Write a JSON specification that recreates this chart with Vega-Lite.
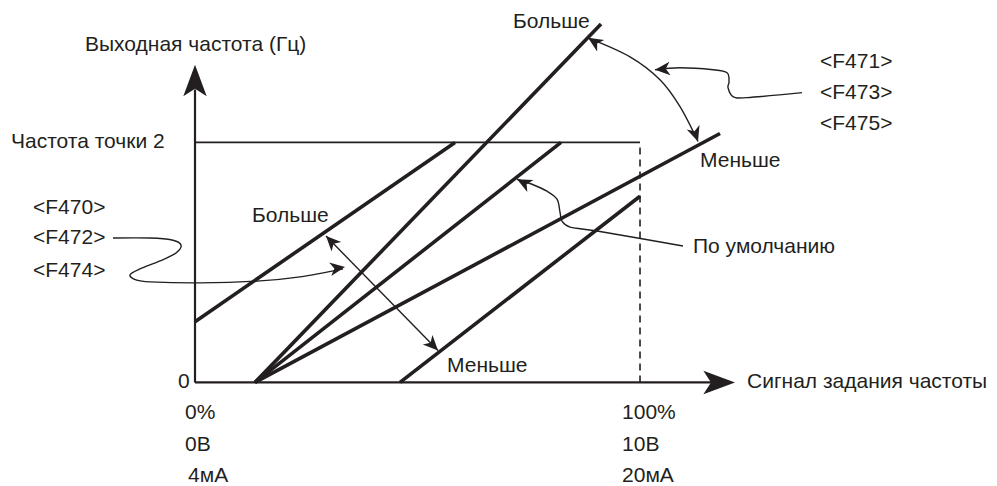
{
  "$schema": "https://vega.github.io/schema/vega-lite/v6.json",
  "width": 997,
  "height": 486,
  "autosize": {"type": "fit", "contains": "padding"},
  "padding": 0,
  "background": "white",
  "config": {"view": {"stroke": null}},
  "datasets": {
    "segments": [
      {"kind": "thick", "id": "bias", "o": 0, "x": 0, "y": 25.31},
      {"kind": "thick", "id": "bias", "o": 1, "x": 58.43, "y": 100},
      {"kind": "thick", "id": "steep", "o": 0, "x": 13.48, "y": 0},
      {"kind": "thick", "id": "steep", "o": 1, "x": 91.24, "y": 149.38},
      {"kind": "thick", "id": "default", "o": 0, "x": 13.48, "y": 0},
      {"kind": "thick", "id": "default", "o": 1, "x": 82.25, "y": 100},
      {"kind": "thick", "id": "shallow", "o": 0, "x": 13.48, "y": 0},
      {"kind": "thick", "id": "shallow", "o": 1, "x": 117.98, "y": 103.73},
      {"kind": "thick", "id": "shift", "o": 0, "x": 46.07, "y": 0},
      {"kind": "thick", "id": "shift", "o": 1, "x": 100, "y": 77.59},
      {"kind": "axis", "id": "yaxis", "o": 0, "x": 0, "y": 0},
      {"kind": "axis", "id": "yaxis", "o": 1, "x": 0, "y": 122},
      {"kind": "axis", "id": "xaxis", "o": 0, "x": 0, "y": 0},
      {"kind": "axis", "id": "xaxis", "o": 1, "x": 117, "y": 0},
      {"kind": "thin", "id": "p2", "o": 0, "x": 0, "y": 100},
      {"kind": "thin", "id": "p2", "o": 1, "x": 100, "y": 100},
      {"kind": "dash", "id": "full", "o": 0, "x": 100, "y": 0},
      {"kind": "dash", "id": "full", "o": 1, "x": 100, "y": 100},
      {"kind": "curve", "id": "c474", "o": 0, "x": -18.43, "y": 60.17},
      {"kind": "curve", "id": "c474", "o": 1, "x": -10.11, "y": 60.17},
      {"kind": "curve", "id": "c474", "o": 2, "x": -5.17, "y": 59.34},
      {"kind": "curve", "id": "c474", "o": 3, "x": -3.15, "y": 57.26},
      {"kind": "curve", "id": "c474", "o": 4, "x": -4.27, "y": 53.94},
      {"kind": "curve", "id": "c474", "o": 5, "x": -7.87, "y": 50.62},
      {"kind": "curve", "id": "c474", "o": 6, "x": -12.36, "y": 47.3},
      {"kind": "curve", "id": "c474", "o": 7, "x": -14.61, "y": 44.81},
      {"kind": "curve", "id": "c474", "o": 8, "x": -13.26, "y": 42.74},
      {"kind": "curve", "id": "c474", "o": 9, "x": -10.11, "y": 41.91},
      {"kind": "curve", "id": "c474", "o": 10, "x": 1.12, "y": 41.49},
      {"kind": "curve", "id": "c474", "o": 11, "x": 14.61, "y": 42.32},
      {"kind": "curve", "id": "c474", "o": 12, "x": 23.6, "y": 43.98},
      {"kind": "curve", "id": "c474", "o": 13, "x": 33.26, "y": 47.3},
      {"kind": "curve", "id": "c471", "o": 0, "x": 103.37, "y": 130.29},
      {"kind": "curve", "id": "c471", "o": 1, "x": 108.99, "y": 131.12},
      {"kind": "curve", "id": "c471", "o": 2, "x": 116.4, "y": 130.29},
      {"kind": "curve", "id": "c471", "o": 3, "x": 119.55, "y": 129.05},
      {"kind": "curve", "id": "c471", "o": 4, "x": 120.0, "y": 125.31},
      {"kind": "curve", "id": "c471", "o": 5, "x": 119.78, "y": 122.82},
      {"kind": "curve", "id": "c471", "o": 6, "x": 120.9, "y": 119.09},
      {"kind": "curve", "id": "c471", "o": 7, "x": 124.04, "y": 118.67},
      {"kind": "curve", "id": "c471", "o": 8, "x": 136.4, "y": 120.75},
      {"kind": "curve", "id": "arc", "o": 0, "x": 88.31, "y": 143.57},
      {"kind": "curve", "id": "arc", "o": 1, "x": 97.75, "y": 135.68},
      {"kind": "curve", "id": "arc", "o": 2, "x": 104.49, "y": 126.14},
      {"kind": "curve", "id": "arc", "o": 3, "x": 108.99, "y": 114.94},
      {"kind": "curve", "id": "arc", "o": 4, "x": 113.03, "y": 100.41},
      {"kind": "curve", "id": "cdef", "o": 0, "x": 72.36, "y": 84.65},
      {"kind": "curve", "id": "cdef", "o": 1, "x": 75.73, "y": 82.57},
      {"kind": "curve", "id": "cdef", "o": 2, "x": 79.1, "y": 79.67},
      {"kind": "curve", "id": "cdef", "o": 3, "x": 81.35, "y": 76.35},
      {"kind": "curve", "id": "cdef", "o": 4, "x": 82.02, "y": 70.95},
      {"kind": "curve", "id": "cdef", "o": 5, "x": 82.47, "y": 67.22},
      {"kind": "curve", "id": "cdef", "o": 6, "x": 84.27, "y": 64.73},
      {"kind": "curve", "id": "cdef", "o": 7, "x": 90.34, "y": 63.07},
      {"kind": "curve", "id": "cdef", "o": 8, "x": 109.66, "y": 56.85},
      {"kind": "curve", "id": "dbl", "o": 0, "x": 29.44, "y": 61.0},
      {"kind": "curve", "id": "dbl", "o": 1, "x": 54.61, "y": 13.28}
    ],
    "axisHeads": [
      {"x": 0, "y": 132.37, "angle": 0},
      {"x": 121.35, "y": 0, "angle": 90}
    ],
    "smallHeads": [
      {"x": 88.31, "y": 143.57, "angle": 302},
      {"x": 113.03, "y": 100.41, "angle": 161},
      {"x": 103.37, "y": 130.29, "angle": 265},
      {"x": 72.36, "y": 84.65, "angle": 297},
      {"x": 29.44, "y": 61.0, "angle": 316},
      {"x": 54.61, "y": 13.28, "angle": 136},
      {"x": 33.71, "y": 48.13, "angle": 81}
    ],
    "labels": [
      {"text": "Выходная частота (Гц)", "x": -24.72, "y": 140.66},
      {"text": "Частота точки 2", "x": -41.35, "y": 100},
      {"text": "<F470>", "x": -36.4, "y": 72.61},
      {"text": "<F472>", "x": -36.4, "y": 60.17},
      {"text": "<F474>", "x": -36.4, "y": 46.47},
      {"text": "Больше", "x": 12.81, "y": 69.29},
      {"text": "Меньше", "x": 56.63, "y": 6.64},
      {"text": "0", "x": -3.82, "y": 0},
      {"text": "0%", "x": -2.25, "y": -12.86},
      {"text": "0В", "x": -2.25, "y": -26.14},
      {"text": "4мА", "x": -1.57, "y": -39.0},
      {"text": "100%", "x": 95.96, "y": -12.86},
      {"text": "10В", "x": 95.96, "y": -26.14},
      {"text": "20мА", "x": 95.96, "y": -39.0},
      {"text": "Сигнал задания частоты", "x": 124.04, "y": 0},
      {"text": "Больше", "x": 71.46, "y": 150.21},
      {"text": "Меньше", "x": 113.48, "y": 92.12},
      {"text": "<F471>", "x": 140.45, "y": 133.61},
      {"text": "<F473>", "x": 140.45, "y": 120.75},
      {"text": "<F475>", "x": 140.45, "y": 107.47},
      {"text": "По умолчанию", "x": 111.91, "y": 56.43}
    ]
  },
  "encoding": {
    "x": {"field": "x", "type": "quantitative", "scale": {"domain": [-43.82, 180.22], "nice": false, "zero": false}, "axis": null},
    "y": {"field": "y", "type": "quantitative", "scale": {"domain": [-42.32, 159.34], "nice": false, "zero": false}, "axis": null}
  },
  "layer": [
    {
      "data": {"name": "segments"},
      "transform": [{"filter": "datum.kind === 'thin'"}],
      "mark": {"type": "line", "stroke": "#231f20", "strokeWidth": 1.6},
      "encoding": {"detail": {"field": "id"}, "order": {"field": "o"}}
    },
    {
      "data": {"name": "segments"},
      "transform": [{"filter": "datum.kind === 'dash'"}],
      "mark": {"type": "line", "stroke": "#231f20", "strokeWidth": 1.6, "strokeDash": [7, 5]},
      "encoding": {"detail": {"field": "id"}, "order": {"field": "o"}}
    },
    {
      "data": {"name": "segments"},
      "transform": [{"filter": "datum.kind === 'thick'"}],
      "mark": {"type": "line", "stroke": "#231f20", "strokeWidth": 3.6},
      "encoding": {"detail": {"field": "id"}, "order": {"field": "o"}}
    },
    {
      "data": {"name": "segments"},
      "transform": [{"filter": "datum.kind === 'axis'"}],
      "mark": {"type": "line", "stroke": "#231f20", "strokeWidth": 2.2},
      "encoding": {"detail": {"field": "id"}, "order": {"field": "o"}}
    },
    {
      "data": {"name": "segments"},
      "transform": [{"filter": "datum.kind === 'curve'"}],
      "mark": {"type": "line", "stroke": "#231f20", "strokeWidth": 1.4, "interpolate": "cardinal"},
      "encoding": {"detail": {"field": "id"}, "order": {"field": "o"}}
    },
    {
      "data": {"name": "axisHeads"},
      "mark": {"type": "point", "shape": "M0,0L0.37,1L0,0.76L-0.37,1Z", "filled": true, "fill": "#231f20", "stroke": null, "size": 4000, "opacity": 1},
      "encoding": {"angle": {"field": "angle", "type": "quantitative", "scale": null}}
    },
    {
      "data": {"name": "smallHeads"},
      "mark": {"type": "point", "shape": "M0,0L0.45,1L0,0.72L-0.45,1Z", "filled": true, "fill": "#231f20", "stroke": null, "size": 900, "opacity": 1},
      "encoding": {"angle": {"field": "angle", "type": "quantitative", "scale": null}}
    },
    {
      "data": {"name": "labels"},
      "mark": {"type": "text", "align": "left", "baseline": "middle", "font": "Liberation Sans", "fontSize": 21, "fill": "#231f20"},
      "encoding": {"text": {"field": "text"}}
    }
  ]
}
